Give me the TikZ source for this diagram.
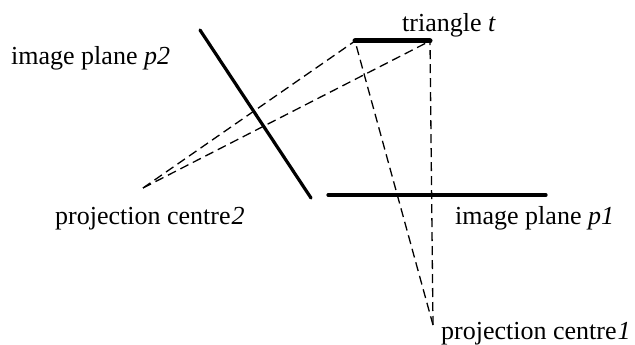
\documentclass[tikz,border=0pt]{standalone}
\usepackage{fontspec}
\setmainfont{Liberation Serif}
\tikzset{thick line/.style={line width=3.2pt,line cap=round},tri/.style={line width=5pt,line cap=round},ray/.style={line width=1.3pt,dash pattern=on 9pt off 5pt},lab/.style={inner sep=0pt,anchor=base west,font=\fontsize{26}{30}\selectfont}}
\begin{document}
\begin{tikzpicture}[x=1pt,y=-1pt]
\useasboundingbox (0,0) rectangle (635,345);
\coordinate (ta) at (355,41);
\coordinate (tb) at (430,41);
\coordinate (c1) at (433,325);
\coordinate (c2) at (143,188);
\coordinate (p2a) at (200,30);
\coordinate (p2b) at (311,198);
\coordinate (p1a) at (328,195);
\coordinate (p1b) at (546,195);
\draw[tri] (ta) -- (tb);
\draw[thick line] (p2a) -- (p2b);
\draw[thick line] (p1a) -- (p1b);
\draw[ray] (c2) -- (ta);
\draw[ray] (c2) -- (tb);
\draw[ray] (c1) -- (ta);
\draw[ray] (c1) -- (tb);
\node[lab] (t1) at (402,32) {triangle \textit{t}};
\node[lab] (t2) at (11,65) {image plane \textit{p2}};
\node[lab] (t3) at (455,224) {image plane \textit{p1}};
\node[lab] (t4) at (55,224) {projection centre\kern1pt\textit{2}};
\node[lab] (t5) at (441,339.5) {projection centre\kern1pt\textit{1}};
\end{tikzpicture}
\end{document}
